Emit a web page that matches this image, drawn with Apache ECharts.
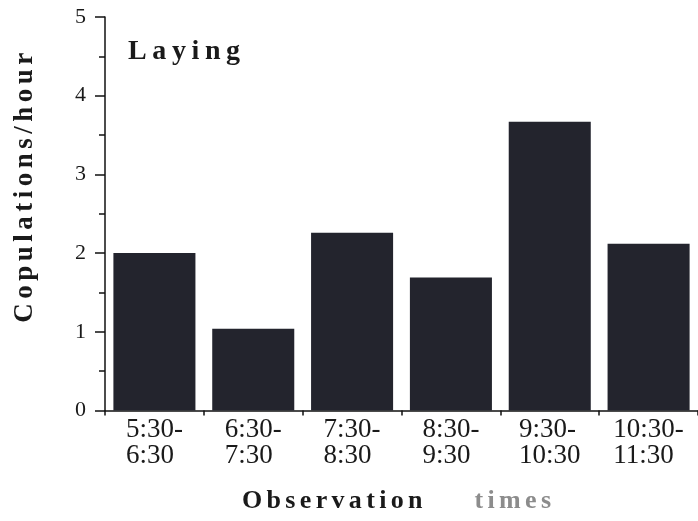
<!DOCTYPE html>
<html>
<head>
<meta charset="utf-8">
<script src="https://cdn.jsdelivr.net/npm/echarts@6/dist/echarts.min.js"></script>
<style>
  html, body { margin: 0; padding: 0; background: #fff; }
  #chart { width: 698px; height: 521px; }
</style>
</head>
<body>
<div id="chart"></div>
<script>
// Observation windows (start / end of each hour)
const periodStart = ['5:30-', '6:30-', '7:30-', '8:30-', '9:30-', '10:30-'];
const periodEnd   = ['6:30', '7:30', '8:30', '9:30', '10:30', '11:30'];
// Copulation rate during the laying phase
const copulationsPerHour = [2.0, 1.04, 2.26, 1.69, 3.67, 2.12];
// Y axis range
const yTicks = { min: 0, max: 5, step: 1 };

const categories = periodStart.map((s, i) => s + '\n' + periodEnd[i]);
const serif = '"Liberation Serif", "Times New Roman", serif';
// letter-spaced headings (thin / six-per-em spaces between glyphs)
const spaced = (s, sp) => s.split('').join(sp);
const THIN = '\u2009';
const SIXTH = '\u2006';

const chart = echarts.init(document.getElementById('chart'), null, { renderer: 'canvas' });

chart.setOption({
  backgroundColor: '#ffffff',
  animation: false,
  title: {
    text: spaced('Laying', THIN),
    left: 123,
    top: 33,
    textStyle: { fontFamily: serif, fontSize: 28, fontWeight: 'bold', color: '#1a1a1a' }
  },
  grid: { left: 105, right: 0, top: 17, bottom: 110.5, containLabel: false },
  xAxis: {
    type: 'category',
    data: categories,
    name: '{a|' + spaced('Observation', SIXTH) + '}{g|        ' + spaced('times', SIXTH) + '}',
    nameLocation: 'middle',
    nameGap: 78,
    nameTextStyle: {
      padding: [0, 10, 0, 0],
      rich: {
        a: { fontFamily: serif, fontSize: 26, fontWeight: 'bold', color: '#1a1a1a' },
        g: { fontFamily: serif, fontSize: 26, fontWeight: 'bold', color: '#8c8c8c' }
      }
    },
    axisLine: { show: true, lineStyle: { color: '#111', width: 1.5 } },
    axisTick: { show: true, length: 5, lineStyle: { color: '#111', width: 1.5 } },
    axisLabel: {
      margin: 6,
      interval: 0,
      formatter: v => v.split('\n').map(l => '{l|' + l + '}').join('\n'),
      rich: {
        l: { align: 'left', fontFamily: serif, fontSize: 27, lineHeight: 26, color: '#1a1a1a' }
      }
    },
    splitLine: { show: false }
  },
  yAxis: {
    type: 'value',
    min: yTicks.min,
    max: yTicks.max,
    interval: yTicks.step,
    name: spaced('Copulations/hour', SIXTH),
    nameLocation: 'middle',
    nameRotate: 90,
    nameGap: 66,
    nameTextStyle: {
      fontFamily: serif, fontSize: 27, fontWeight: 'bold', color: '#1a1a1a',
      padding: [0, 0, 0, 52]
    },
    axisLine: { show: true, lineStyle: { color: '#111', width: 1.5 } },
    axisTick: { show: true, length: 10, lineStyle: { color: '#111', width: 1.5 } },
    minorTick: { show: true, splitNumber: 2, length: 6, lineStyle: { color: '#111', width: 1.5 } },
    axisLabel: { margin: 19, fontFamily: serif, fontSize: 22, color: '#1a1a1a' },
    splitLine: { show: false },
    minorSplitLine: { show: false }
  },
  series: [{
    type: 'bar',
    data: copulationsPerHour,
    barCategoryGap: '17%',
    itemStyle: { color: '#23242d' }
  }]
});
</script>
</body>
</html>
